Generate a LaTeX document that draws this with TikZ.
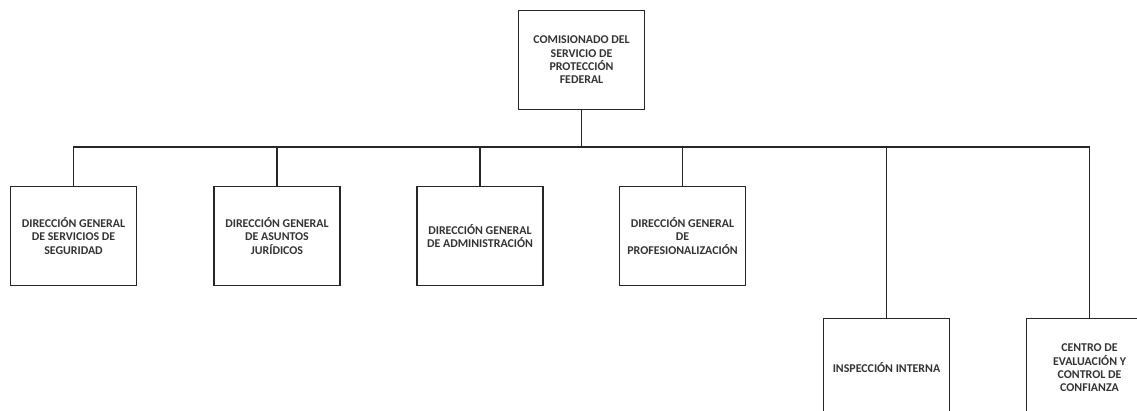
\documentclass[tikz,border=0pt]{standalone}
\usepackage{fontspec}
\setmainfont{Carlito}
\begin{document}
\begin{tikzpicture}[x=1pt,y=-1pt,
  unit/.style={draw=black!85,line width=1.8pt,minimum width=126pt,minimum height=99pt,
    align=center,font=\fontsize{11.9}{13.3}\selectfont\bfseries,text=black!80,inner sep=0pt},
  link/.style={draw=black!85,line width=1.4pt}]
\useasboundingbox (0,0) rectangle (1137,411);
\clip (0,0) rectangle (1137,411);
\node[unit] (top) at (581.5,60) {COMISIONADO DEL\\SERVICIO DE\\PROTECCIÓN\\FEDERAL};
\node[unit] (a) at (73.5,236) {DIRECCIÓN GENERAL\\DE SERVICIOS DE\\SEGURIDAD};
\node[unit] (b) at (277,236) {DIRECCIÓN GENERAL\\DE ASUNTOS\\JURÍDICOS};
\node[unit] (c) at (480,236) {DIRECCIÓN GENERAL\\DE ADMINISTRACIÓN};
\node[unit] (d) at (682.5,236) {DIRECCIÓN GENERAL\\DE\\PROFESIONALIZACIÓN};
\node[unit] (e) at (886.5,368) {INSPECCIÓN INTERNA};
\node[unit] (f) at (1089.5,368) {CENTRO DE\\EVALUACIÓN Y\\CONTROL DE\\CONFIANZA};
\coordinate (bus) at (581.5,147);
\draw[link] (top.south) -- (bus);
\draw[link] (a.north) |- (bus) -| (f.north);
\draw[link] (b.north) -- (b.north |- bus);
\draw[link] (c.north) -- (c.north |- bus);
\draw[link] (d.north) -- (d.north |- bus);
\draw[link] (e.north) -- (e.north |- bus);
\end{tikzpicture}
\end{document}
